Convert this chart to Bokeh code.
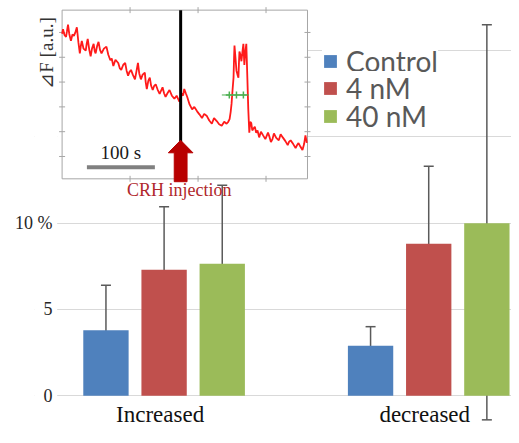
import numpy as np
from bokeh.plotting import figure
from bokeh.models import (ColumnDataSource, Range1d, FixedTicker, Whisker, TeeHead,
                          Legend, LegendItem)
from bokeh.core.properties import value
from bokeh.embed import file_html
from bokeh.resources import INLINE

# ---------------- data ----------------
groups = ["Increased", "decreased"]
series = ["Control", "4 nM", "40 nM"]
colors = ["#4F81BD", "#C0504D", "#9BBB59"]

control = [3.8, 2.9]
control_hi = [6.4, 4.0]
control_lo = [1.35, 1.85]
nm4 = [7.3, 8.8]
nm4_hi = [10.95, 13.3]
nm4_lo = [3.7, 4.35]
nm40 = [7.65, 10.0]
nm40_hi = [12.2, 21.5]
nm40_lo = [3.2, -1.4]

y_ticks = [0, 5, 10, 15, 20]
y_tick_labels = {0: "0", 5: "5", 10: "10 %", 15: "", 20: ""}

# inset trace (time in s, dF in a.u.)
trace_t = [0, 1.4, 3.5, 5.8, 7.2, 8.7, 10.5, 13.0, 15.2, 17.4, 19.5, 21.7, 24.0, 26.1, 27.5,
           29.0, 31.5, 34.8, 36.2, 37.7, 40.0, 42.0, 44.0, 46.4, 48.0, 49.3, 51.5, 53.6, 55.8,
           58.0, 61.5, 65.2, 68.0, 71.0, 73.0, 75.4, 78.5, 82.6, 85.0, 87.0, 90.0, 92.8, 95.0,
           97.1, 99.0, 101.4, 104.0, 107.2, 109.5, 111.6, 113.5, 115.9, 118.5, 121.7, 123.0,
           124.6, 126.8, 129.0, 131.0, 133.3, 135.5, 137.7, 140.5, 143.5, 145.5, 147.8, 150.0,
           152.2, 155.0, 158.0, 161.5, 165.2, 168.5, 172.5, 174.5, 176.5, 178.0, 179.7, 182.0,
           184.1, 187.5, 191.3, 194.5, 198.6, 202.0, 205.8, 209.0, 213.0, 216.5, 220.3, 223.5,
           227.5, 231.0, 234.8, 238.5, 242.0, 244.0, 246.4, 248.0, 249.3, 250.8, 252.2, 253.0,
           253.6, 255.0, 256.5, 258.0, 259.4, 260.2, 260.9, 262.3, 263.8, 265.2, 266.7, 268.1,
           269.5, 271.0, 272.5, 273.9, 275.4, 276.8, 278.3, 279.8, 281.2, 283.5, 285.5, 287.5,
           289.9, 292.5, 295.7, 299.0, 302.9, 305.0, 307.2, 309.5, 311.6, 315.0, 318.8, 321.5,
           324.6, 328.5, 331.9, 334.0, 336.2, 340.0, 343.5, 345.5, 347.8, 350.5, 353.6, 356.0,
           358.0, 360.0]
trace_f = [5.95, 6.13, 5.9, 5.82, 6.05, 6.32, 5.95, 5.66, 5.92, 5.86, 6.0, 6.21, 5.6, 5.16, 5.45,
           5.66, 5.35, 5.27, 5.55, 5.74, 5.3, 5.04, 5.35, 5.54, 5.25, 5.16, 5.45, 5.62, 5.3,
           5.16, 5.35, 5.43, 5.1, 4.88, 4.95, 4.65, 4.9, 4.77, 4.55, 4.49, 4.7, 4.77, 4.45,
           4.26, 4.4, 4.49, 4.3, 4.11, 4.45, 4.77, 4.35, 4.11, 4.3, 4.38, 4.0,
           3.72, 4.05, 4.18, 3.85, 3.68, 3.85, 3.91, 3.7, 3.52, 3.65, 3.79, 3.55,
           3.40, 3.55, 3.68, 3.45, 3.33, 3.45, 3.21, 3.35, 3.55, 3.45, 3.72, 3.55,
           3.40, 3.1, 2.90, 3.0, 2.82, 2.7, 2.55, 2.72, 2.63, 2.45, 2.32, 2.55,
           2.43, 2.3, 2.24, 2.4, 2.32, 2.38, 2.51, 2.8, 3.13, 3.7, 4.18, 5.0,
           5.47, 5.0, 4.46, 4.3, 4.18, 4.8, 5.23, 5.1, 4.84, 5.2, 5.54, 4.69,
           5.2, 5.54, 4.2, 2.90, 1.96, 2.4, 2.35, 2.05, 2.12, 2.2, 1.96, 2.05,
           1.77, 2.0, 1.85, 1.7, 1.96, 1.8, 1.58, 1.7, 1.93, 1.75, 1.65, 1.9,
           1.77, 1.62, 1.46, 1.6, 1.65, 1.5, 1.34, 1.45, 1.54, 1.4, 1.26, 1.5,
           1.85, 1.55]
inset_t_range = [0, 361]
inset_f_range = [0.1, 6.9]
inset_t_ticks = [100, 200, 300]
inset_f_ticks = [1, 2, 3, 4, 5, 6]
inset_y_label = "⊿F  [a.u.]"
injection_t = 174.4
scalebar_t = [36.5, 136.5]
green_t = [235, 275]
green_f = 3.48
green_marks = [246, 256.5, 266.7]

# ---------------- layout geometry (reference pixels -> this canvas) ----------------
W, H = 511, 427
SX, SY = W / 519, H / 443
REF_LEFT, REF_RIGHT, REF_TOP, REF_BOTTOM = 35, 519, 0, 443   # frame box
GRID_LEFT = 58                                             # gridlines start here
LABEL_RIGHT = 53                                           # y tick labels end here
Y0_PX, PX_PER_UNIT = 410, 17.9
XC_PX, PX_PER_GROUP = 166.5, 268.5
FRAME_LEFT = round(REF_LEFT * SX)


def vy(py):
    return (Y0_PX - py) / PX_PER_UNIT


def vx(px):
    return (px - XC_PX) / PX_PER_GROUP


p = figure(width=W, height=H, output_backend="svg", toolbar_location=None,
           x_range=Range1d(vx(REF_LEFT), vx(REF_RIGHT)),
           y_range=Range1d(vy(REF_BOTTOM), vy(REF_TOP)),
           min_border_left=FRAME_LEFT, min_border_right=0,
           min_border_top=0, min_border_bottom=0)
p.outline_line_color = None
p.background_fill_color = "white"
p.xaxis.visible = False
p.xgrid.visible = False
ticker = FixedTicker(ticks=y_ticks)
p.yaxis.ticker = ticker
p.ygrid.ticker = ticker
p.ygrid.grid_line_color = "#D9D9D9"
p.ygrid.grid_line_width = 1
p.yaxis.major_label_overrides = y_tick_labels
p.yaxis.axis_line_color = None
p.yaxis.major_tick_line_color = None
p.yaxis.major_tick_out = 0
p.yaxis.major_tick_in = 0
p.yaxis.minor_tick_line_color = None
p.yaxis.minor_tick_out = 0
p.yaxis.major_label_text_font = "Liberation Serif"
p.yaxis.major_label_text_font_size = "18px"
p.yaxis.major_label_text_color = "#262626"
p.yaxis.major_label_standoff = -round((LABEL_RIGHT - REF_LEFT) * SX)

# white strip so that gridlines start right of the tick labels
p.quad(left=[vx(REF_LEFT)], right=[vx(GRID_LEFT)], bottom=[vy(REF_BOTTOM)], top=[vy(REF_TOP)],
       fill_color="white", line_color=None)

# ---------------- bars ----------------
pitch = 59 / PX_PER_GROUP
bar_w = 46 / PX_PER_GROUP
gx = np.arange(len(groups))
vals = [control, nm4, nm40]
his = [control_hi, nm4_hi, nm40_hi]
los = [control_lo, nm4_lo, nm40_lo]
bar_renderers = []
for i, (name, col) in enumerate(zip(series, colors)):
    src = ColumnDataSource(dict(x=gx + (i - 1) * pitch, top=vals[i], hi=his[i], lo=los[i]))
    r = p.vbar(x="x", top="top", width=bar_w, bottom=0, source=src,
               fill_color=col, line_color=None)
    bar_renderers.append(r)
    w = Whisker(source=src, base="x", upper="hi", lower="lo",
                line_color="#5A5A5A", line_width=1.5,
                upper_head=TeeHead(size=10, line_color="#5A5A5A", line_width=1.5),
                lower_head=TeeHead(size=10, line_color="#5A5A5A", line_width=1.5))
    p.add_layout(w)

p.text(x=gx, y=[vy(430)] * len(groups), text=groups, text_align="center",
       text_baseline="middle", x_offset=-4, text_font=value("Liberation Serif"),
       text_font_size="23px", text_color="#111111")

# ---------------- inset (own ranges mapped into upper-left box) ----------------
IB_L, IB_R, IB_T, IB_B = 63, 312, 10, 185
t_per_px = (inset_t_range[1] - inset_t_range[0]) / (IB_R - IB_L)
f_per_px = (inset_f_range[1] - inset_f_range[0]) / (IB_B - IB_T)
p.extra_x_ranges = {"ix": Range1d(inset_t_range[0] - (IB_L - REF_LEFT) * t_per_px,
                                  inset_t_range[1] + (REF_RIGHT - IB_R) * t_per_px)}
p.extra_y_ranges = {"iy": Range1d(inset_f_range[0] - (REF_BOTTOM - IB_B) * f_per_px,
                                  inset_f_range[1] + (IB_T - REF_TOP) * f_per_px)}


def fy(py):
    return inset_f_range[0] + (IB_B - py) * f_per_px


def fx(px):
    return inset_t_range[0] + (px - IB_L) * t_per_px


IR = dict(x_range_name="ix", y_range_name="iy")
p.quad(left=[fx(GRID_LEFT)], right=[inset_t_range[1]], bottom=[inset_f_range[0]],
       top=[inset_f_range[1]], fill_color="white", line_color=None, **IR)
p.quad(left=[inset_t_range[0]], right=[inset_t_range[1]], bottom=[inset_f_range[0]],
       top=[inset_f_range[1]], fill_color=None, line_color="#A6A6A6", line_width=1, **IR)
# inset ticks
p.scatter(x=[inset_t_range[0]] * len(inset_f_ticks), y=inset_f_ticks, marker="dash",
          size=6, line_color="#A6A6A6", **IR)
p.scatter(x=[inset_t_range[1]] * len(inset_f_ticks), y=inset_f_ticks, marker="dash",
          size=6, line_color="#A6A6A6", **IR)
p.scatter(x=inset_t_ticks, y=[inset_f_range[0]] * len(inset_t_ticks), marker="dash",
          angle=np.pi / 2, size=6, line_color="#A6A6A6", **IR)
p.scatter(x=inset_t_ticks, y=[inset_f_range[1]] * len(inset_t_ticks), marker="dash",
          angle=np.pi / 2, size=6, line_color="#A6A6A6", **IR)
p.text(x=[fx(47)], y=[fy(52)], text=[inset_y_label], angle=np.pi / 2, text_align="center",
       text_baseline="middle", text_font=value("Liberation Serif"), text_font_size="19px",
       text_color="#333333", **IR)

p.line(x=trace_t, y=trace_f, line_color="#FF1A1A", line_width=1.8, **IR)

# green marker
p.line(x=green_t, y=[green_f] * 2, line_color="#4CAF50", line_width=1, **IR)
p.scatter(x=green_marks, y=[green_f] * len(green_marks), marker="cross", size=7,
          line_color="#4CAF50", line_width=1.5, **IR)

# injection line and arrow
p.line(x=[injection_t] * 2, y=inset_f_range, line_color="black", line_width=3, **IR)
sw, hw = 6.5 * t_per_px, 12.5 * t_per_px
tip, base, bot = fy(145), fy(158), fy(188)
p.patch(x=[injection_t - sw, injection_t - sw, injection_t - hw, injection_t,
           injection_t + hw, injection_t + sw, injection_t + sw],
        y=[bot, base, base, tip, base, base, bot],
        fill_color="#B80000", line_color="#B80000", **IR)
p.text(x=[injection_t - 1.5 * t_per_px], y=[fy(197)], text=["CRH injection"],
       text_align="center", text_baseline="middle", text_font=value("Liberation Serif"),
       text_font_size="18px", text_color="#B0282C", **IR)

# scale bar
p.line(x=scalebar_t, y=[fy(173)] * 2, line_color="#808080", line_width=4, **IR)
p.text(x=[sum(scalebar_t) / 2], y=[fy(158)], text=["100 s"], text_align="center",
       text_baseline="middle", text_font=value("Liberation Serif"),
       text_font_size="19px", text_color="#1A1A1A", **IR)

# ---------------- legend (one row per entry, rows placed at the reference pitch) ----------------
LEG_GLYPH_LEFT = 327
LEG_ROW_CENTERS = [64, 92, 121]
ITEM_H = 33.6   # measured height of one legend row at this font size
for s, r, cy in zip(series, bar_renderers, LEG_ROW_CENTERS):
    lg = Legend(items=[LegendItem(label=s, renderers=[r])],
                location=(round(LEG_GLYPH_LEFT * SX) - FRAME_LEFT,
                          round(H - cy * SY - ITEM_H / 2)),
                glyph_width=16, glyph_height=16, label_standoff=8, spacing=0,
                padding=14, margin=0, border_line_color=None,
                background_fill_color="white", background_fill_alpha=1.0,
                label_text_font="Lato", label_text_font_size="28px",
                label_text_color="#595959")
    p.add_layout(lg)

open("out.html", "w").write(file_html(p, INLINE))
